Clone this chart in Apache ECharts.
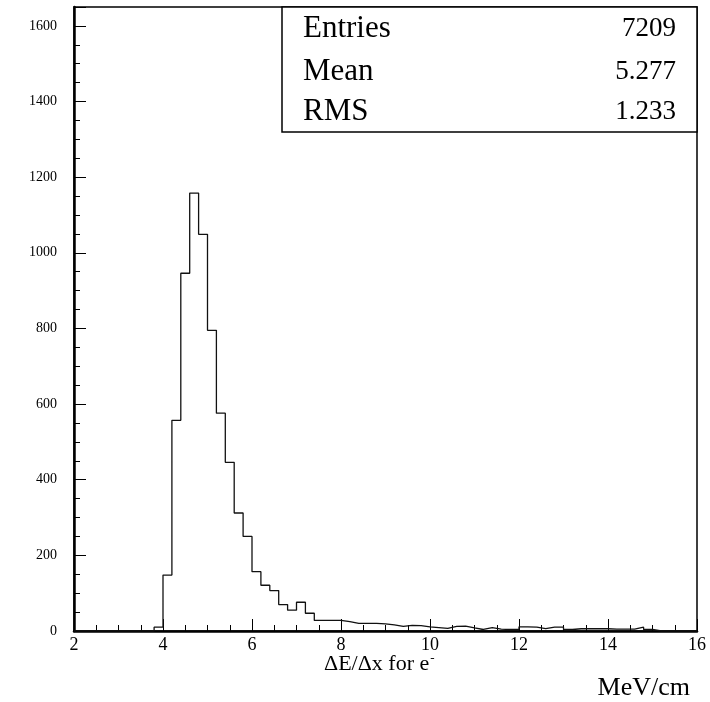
<!DOCTYPE html>
<html>
<head>
<meta charset="utf-8">
<script src="https://cdn.jsdelivr.net/npm/echarts@6/dist/echarts.min.js"></script>
<style>
html,body{margin:0;padding:0;background:#fff;}
#chart{width:710px;height:702px;}
</style>
</head>
<body>
<div id="chart"></div>
<script>
// Histogram: bins of width 0.2 starting at 2.0
const binStart = 2.0;
const binWidth = 0.2;
const counts = [
  0, 0, 0, 0, 0, 0, 0, 0, 0,          // 2.0 - 3.8
  10, 148, 557, 946, 1158, 1049, 795, 576, 446, 312,   // 3.8 - 5.8
  250, 157, 121, 107, 70, 55, 76, 47, 28, 28,          // 5.8 - 7.8
  28, 25, 20, 20, 20, 19, 16, 12, 15, 14,              // 7.8 - 9.8
  11, 9, 7, 12, 13, 8, 4, 9, 5, 4,                     // 9.8 - 11.8
  4, 11, 10, 6, 10, 10, 4, 6, 6, 6,                    // 11.8 - 13.8
  6, 5, 5, 5, 10, 4, 0, 0, 0, 0, 0                     // 13.8 - 16.0
];
const xTicks = [2, 4, 6, 8, 10, 12, 14, 16];
const yTicks = [0, 200, 400, 600, 800, 1000, 1200, 1400, 1600];
const statLabels = ['Entries', 'Mean', 'RMS'];
const statValues = ['7209', '5.277', '1.233'];
const xTitle = 'ΔE/Δx for e';
const unitTitle = 'MeV/cm';

const histData = counts.map((c, i) => [+(binStart + i * binWidth).toFixed(2), c]);
histData.push([+(binStart + counts.length * binWidth).toFixed(2), 0]);

const chart = echarts.init(document.getElementById('chart'), null, {renderer: 'canvas'});
const serif = '"Liberation Serif", "DejaVu Serif", serif';

const graphics = [
  {type: 'rect', shape: {x: 282, y: 7, width: 415, height: 125},
   style: {fill: '#fff', stroke: '#000', lineWidth: 1.5}, z: 100}
];
const rowY = [29, 72, 112];
statLabels.forEach((lab, i) => {
  graphics.push({type: 'text', x: 303, y: rowY[i], z: 101,
    style: {text: lab, font: '31px ' + serif, fill: '#000', textVerticalAlign: 'middle'}});
  graphics.push({type: 'text', x: 676, y: rowY[i], z: 101,
    style: {text: statValues[i], font: '27px ' + serif, fill: '#000', textAlign: 'right', textVerticalAlign: 'middle'}});
});
graphics.push({type: 'text', x: 324, y: 664, z: 101,
  style: {rich: {b: {fontFamily: serif, fontSize: 22, fill: '#000'}, s: {fontFamily: serif, fontSize: 13, verticalAlign: 'top', padding: [0,0,11,1]}},
          text: '{b|' + xTitle + '}{s|-}', textVerticalAlign: 'middle'}});
graphics.push({type: 'text', x: 690, y: 688, z: 101,
  style: {text: unitTitle, font: '26px ' + serif, fill: '#000', textAlign: 'right', textVerticalAlign: 'middle'}});

chart.setOption({
  animation: false,
  backgroundColor: '#fff',
  grid: {left: 74, right: 13, top: 7, bottom: 71, show: true, borderColor: '#000', borderWidth: 1.5, backgroundColor: 'transparent'},
  xAxis: {
    type: 'value', min: xTicks[0], max: xTicks[xTicks.length - 1], interval: 2,
    axisLine: {show: true, onZero: false, lineStyle: {color: '#000', width: 2.5}},
    axisTick: {show: true, inside: true, length: 12, lineStyle: {color: '#000', width: 1}},
    minorTick: {show: true, splitNumber: 4, length: 6, lineStyle: {color: '#000', width: 1}},
    axisLabel: {color: '#000', fontFamily: serif, fontSize: 18, margin: 5, formatter: v => String(v)},
    splitLine: {show: false}
  },
  yAxis: {
    type: 'value', min: yTicks[0], max: 1650, interval: 200,
    axisLine: {show: true, lineStyle: {color: '#000', width: 2.5}},
    axisTick: {show: true, inside: true, length: 12, lineStyle: {color: '#000', width: 1}},
    minorTick: {show: true, splitNumber: 4, length: 6, lineStyle: {color: '#000', width: 1}},
    axisLabel: {color: '#000', fontFamily: serif, fontSize: 14, margin: 17, showMaxLabel: false, formatter: v => String(v)},
    splitLine: {show: false}
  },
  series: [{
    type: 'line', step: 'end', data: histData, symbol: 'none',
    lineStyle: {color: '#111', width: 1.3}, z: 5
  }],
  graphic: graphics
});
</script>
</body>
</html>
